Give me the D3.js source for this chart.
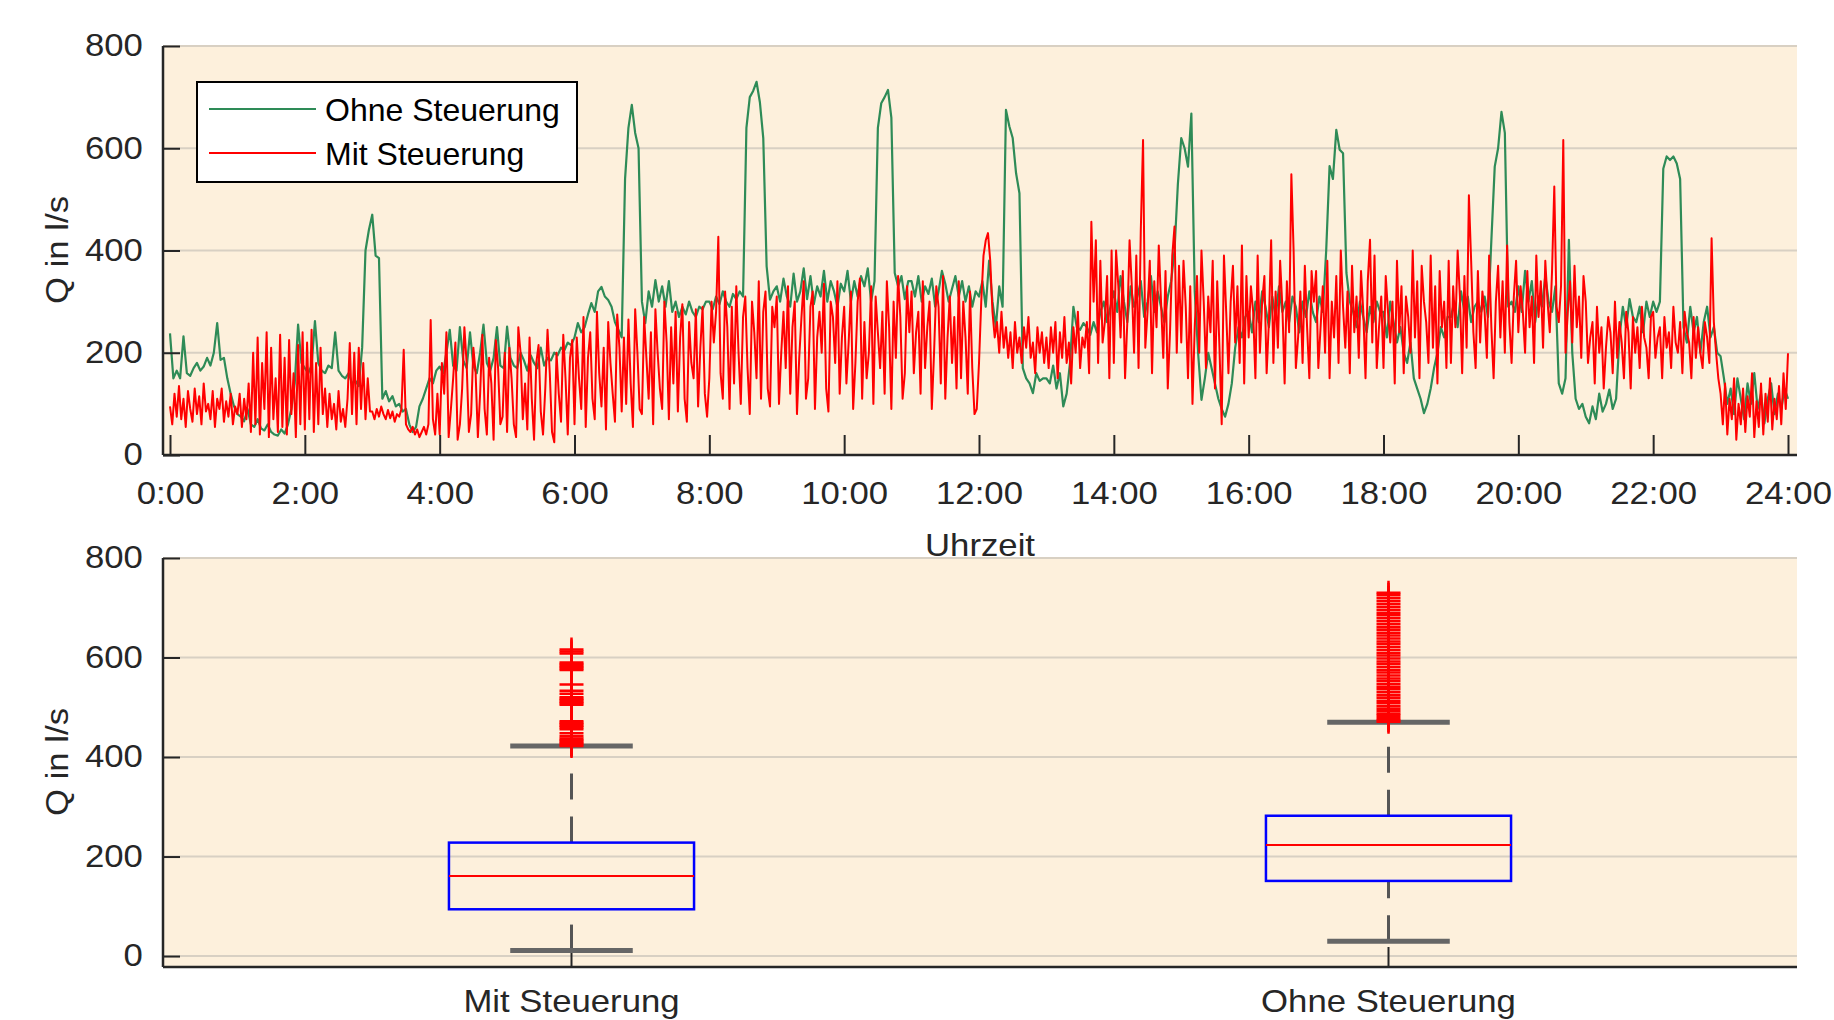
<!DOCTYPE html>
<html>
<head>
<meta charset="utf-8">
<script src="https://cdn.jsdelivr.net/npm/d3@7"></script>
<style>
  body { margin: 0; background: #fff; }
  svg text { font-family: "Liberation Sans", Arial, sans-serif; fill: #262626; }
</style>
</head>
<body>
<svg width="1834" height="1020"></svg>
<script>
// Abfluss in l/s from 0:00 to 24:00
// Ohne Steuerung: one value every 3 minutes (20 per hour)
const ohneStep = 3;
const ohneSteuerung = [
  238, 150, 165, 150, 232, 160, 155, 170, 180, 165, 173, 190, 175, 200, 258, 186, 190, 150, 120, 95,
  80, 75, 66, 90, 60, 55, 70, 52, 48, 60, 45, 40, 38, 50, 42, 60, 90, 140, 255, 180,
  170, 160, 175, 262, 180, 165, 160, 175, 170, 240, 165, 155, 150, 160, 140, 145, 135, 210, 400, 440,
  470, 390, 385, 110, 125, 105, 115, 95, 100, 85, 90, 60, 45, 55, 95, 110, 130, 150, 140, 165,
  173, 160, 200, 245, 175, 165, 250, 185, 170, 240, 175, 160, 200, 255, 180, 165, 190, 250, 175, 170,
  251, 190, 175, 170, 200, 185, 165, 195, 180, 170, 210, 175, 190, 185, 200, 195, 210, 205, 220, 215,
  230, 258, 240, 250, 275, 297, 280, 320, 329, 310, 303, 290, 260, 245, 230, 540, 640, 685, 630, 600,
  300, 258, 320, 290, 342, 300, 330, 290, 340, 280, 300, 270, 290, 275, 300, 280, 270, 290, 285, 300,
  300, 285, 310, 295, 320, 300, 290, 315, 305, 320, 310, 640, 700, 712, 730, 690, 620, 369, 304, 320,
  330, 300, 345, 310, 290, 355, 300, 320, 365, 305, 350, 295, 330, 310, 360, 300, 340, 320, 290, 335,
  320, 360, 300, 340, 310, 350, 330, 365, 300, 340, 640, 688, 700, 714, 660, 356, 330, 350, 305, 340,
  340, 310, 350, 300, 330, 315, 345, 290, 320, 360, 335, 300, 325, 350, 310, 340, 300, 330, 290, 320,
  310, 340, 290, 380, 300, 250, 330, 290, 675, 643, 620, 551, 512, 170, 150, 140, 121, 160, 145, 150,
  150, 140, 175, 130, 160, 95, 120, 180, 290, 250, 245, 258, 250, 235, 260, 240, 280, 300, 260, 290,
  320, 280, 350, 300, 260, 330, 290, 310, 340, 270, 300, 350, 280, 320, 290, 260, 310, 340, 400, 530,
  620, 600, 564, 668, 320, 200, 108, 150, 200, 170, 140, 110, 90, 75, 100, 140, 210, 250, 230, 270,
  280, 240, 300, 260, 320, 290, 250, 310, 270, 330, 280, 300, 260, 310, 290, 240, 300, 270, 320, 280,
  260, 310, 280, 400, 565, 540, 636, 597, 590, 356, 300, 280, 250, 300, 270, 240, 290, 260, 300, 280,
  280, 230, 300, 260, 220, 250, 200, 180, 220, 150, 130, 110, 82, 100, 130, 170, 200, 250, 230, 270,
  270, 300, 250, 320, 280, 310, 260, 290, 300, 280, 310, 270, 420, 564, 600, 671, 630, 290, 300, 280,
  330, 280, 360, 300, 340, 260, 310, 290, 350, 300, 280, 330, 140, 120, 150, 421, 200, 110, 90, 100,
  75, 62, 95, 70, 120, 85, 100, 128, 90, 110, 230, 290, 250, 305, 270, 260, 290, 240, 300, 270,
  300, 280, 300, 560, 584, 577, 584, 570, 540, 250, 220, 290, 240, 270, 200, 260, 290, 230, 250, 200,
  193, 150, 100, 130, 80, 150, 110, 70, 140, 100, 160, 90, 120, 62, 110, 140, 80, 120, 90, 130,
  110
];
// Mit Steuerung: one value every 2 minutes (30 per hour)
const mitStep = 2;
const mitSteuerung = [
  95, 60, 120, 75, 135, 70, 110, 55, 125, 90, 65, 130, 80, 115, 60, 140, 85, 100, 70, 125, 55, 110, 90, 130, 65, 105, 75, 120, 60, 95,
  80, 120, 55, 110, 70, 140, 45, 200, 60, 230, 40, 180, 90, 240, 35, 210, 70, 150, 45, 235, 55, 190, 40, 225, 80, 160, 35, 215, 60, 240,
  50, 220, 70, 245, 45, 180, 60, 210, 80, 130, 55, 120, 70, 100, 50, 125, 65, 90, 55, 110, 219, 80, 200, 60, 210, 90, 180, 70, 150, 85,
  85, 70, 90, 75, 95, 80, 70, 88, 72, 85, 65, 80, 75, 90, 206, 60, 50, 45, 55, 40, 50, 35, 45, 55, 40, 60, 264, 70, 40, 120,
  40, 180, 120, 240, 35, 90, 150, 220, 30, 60, 130, 250, 180, 45, 80, 210, 160, 35, 120, 235, 90, 40, 190, 140, 30, 225, 170, 60, 75, 200,
  45, 210, 150, 60, 35, 250, 200, 70, 140, 50, 230, 110, 30, 180, 215, 85, 40, 130, 245, 160, 45, 25, 200, 120, 65, 235, 150, 40, 190, 225,
  60, 230, 150, 90, 270, 55, 190, 240, 110, 70, 280, 160, 95, 210, 50, 260, 180, 120, 65, 275, 210, 85, 230, 100, 265, 140, 55, 285, 200, 90,
  80, 270, 190, 110, 240, 60, 285, 200, 130, 90, 300, 220, 70, 250, 140, 280, 85, 230, 295, 110, 65, 260, 180, 150, 285, 95, 210, 290, 120, 75,
  150, 300, 220, 280, 427, 160, 110, 320, 250, 90, 290, 140, 330, 200, 100, 270, 310, 170, 80, 300, 240, 150, 340, 110, 280, 320, 130, 95, 290, 250,
  310, 100, 200, 280, 170, 330, 120, 250, 300, 80, 190, 270, 340, 110, 150, 290, 320, 90, 230, 280, 200, 335, 130, 85, 300, 270, 180, 340, 120, 230,
  290, 140, 220, 320, 90, 180, 300, 345, 110, 260, 150, 200, 330, 100, 310, 240, 170, 280, 120, 340, 250, 90, 300, 190, 350, 270, 110, 160, 330, 240,
  320, 160, 240, 280, 120, 340, 170, 250, 300, 90, 200, 330, 290, 140, 350, 110, 230, 310, 180, 270, 130, 340, 150, 300, 230, 120, 320, 170, 80, 90,
  180, 300, 390, 420, 434, 380, 280, 230, 260, 200, 280, 210, 250, 190, 240, 170, 260, 200, 230, 180, 250, 210, 270, 190, 220, 160, 250, 200, 240, 180,
  230, 170, 250, 200, 260, 150, 240, 190, 270, 180, 220, 140, 250, 200, 280, 170, 230, 210, 260, 160, 456, 300, 420, 180, 380, 220, 260, 350, 150, 400,
  180, 400, 330, 230, 360, 150, 260, 420, 330, 200, 390, 170, 440, 616, 210, 280, 380, 160, 340, 250, 410, 300, 190, 360, 130, 240, 390, 447, 200, 370,
  220, 380, 290, 150, 330, 100, 250, 350, 200, 400, 300, 170, 310, 240, 380, 130, 340, 210, 60, 390, 280, 160, 300, 370, 220, 330, 180, 410, 140, 350,
  230, 330, 280, 150, 390, 200, 300, 350, 160, 260, 420, 180, 320, 210, 380, 290, 140, 340, 240, 549, 400, 170, 230, 320, 180, 370, 250, 150, 360, 300,
  360, 170, 250, 330, 200, 380, 150, 300, 230, 350, 180, 400, 290, 210, 320, 160, 370, 240, 310, 190, 360, 280, 150, 340, 421, 220, 390, 170, 250, 310,
  170, 350, 280, 220, 300, 140, 380, 240, 330, 160, 310, 270, 200, 400, 230, 340, 150, 370, 300, 260, 180, 390, 210, 330, 140, 360, 250, 300, 170, 380,
  180, 330, 250, 400, 310, 160, 350, 210, 508, 380, 240, 170, 360, 220, 320, 280, 190, 390, 250, 150, 300, 370, 230, 340, 200, 410, 260, 180, 310, 380,
  240, 330, 280, 200, 360, 250, 310, 180, 390, 270, 340, 210, 380, 300, 240, 360, 525, 290, 260, 330, 616, 200, 280, 340, 220, 370, 250, 310, 190, 350,
  300, 180, 230, 260, 140, 290, 200, 250, 130, 210, 270, 240, 160, 300, 190, 260, 220, 150, 280, 240, 130, 270, 200, 250, 170, 290, 230, 210, 150, 270,
  280, 190, 230, 250, 150, 270, 210, 240, 170, 290, 220, 200, 260, 160, 280, 240, 220, 150, 270, 190, 250, 200, 170, 260, 230, 180, 424, 260, 200, 150,
  120, 60, 140, 40, 110, 70, 150, 30, 100, 60, 130, 45, 115, 75, 160, 35, 105, 55, 140, 40, 120, 65, 150, 50, 110, 70, 135, 60, 160, 90,
  199
];
const timeTicks = [0, 2, 4, 6, 8, 10, 12, 14, 16, 18, 20, 22, 24];
const qTicks = [0, 200, 400, 600, 800];

// boxplot
const boxCategories = ["Mit Steuerung", "Ohne Steuerung"];
const boxQ1 = [94, 151];
const boxMedian = [161, 223];
const boxQ3 = [228, 282];
const whiskerLow = [11, 30];
const whiskerHigh = [422, 470];
const mitOutliers = [422, 425, 428, 431, 434, 437, 442, 448, 456, 460, 463, 466, 469, 472,
  505, 508, 511, 514, 517, 520, 527, 533, 546, 575, 578, 581, 584, 587, 590, 608, 612, 616];
const ohneOutliers = [471, 474, 478, 483, 487, 492, 497, 502, 508, 513, 519, 524, 530, 536,
  541, 547, 553, 558, 564, 570, 575, 581, 587, 592, 598, 604, 609, 615, 621, 627, 632, 638,
  644, 650, 656, 661, 667, 673, 679, 685, 690, 696, 702, 708, 714, 720, 726, 730];
const outliers = [mitOutliers, ohneOutliers];

const svg = d3.select("svg");
const stretch = "scale(1.12,1)";
const left = 163, right = 1797;
const bg = "#fdf0dc", grid = "#d8d0c3", axisColor = "#262626";

// ---------- top: Ganglinie ----------
const x = d3.scaleLinear().domain([0, 24]).range([170, 1788]);
const yTop = d3.scaleLinear().domain([0, 800]).range([455, 46]);

const topPanel = svg.append("g");
topPanel.append("rect")
  .attr("x", left).attr("y", yTop(800))
  .attr("width", right - left).attr("height", yTop(0) - yTop(800))
  .attr("fill", bg);

topPanel.append("g").selectAll("line")
  .data(qTicks.filter(d => d > 0))
  .join("line")
  .attr("x1", left).attr("x2", right)
  .attr("y1", d => yTop(d)).attr("y2", d => yTop(d))
  .attr("stroke", grid).attr("stroke-width", 2);

svg.append("clipPath").attr("id", "clipTop")
  .append("rect")
  .attr("x", left).attr("y", yTop(800))
  .attr("width", right - left).attr("height", yTop(0) - yTop(800));

const lineFor = step => d3.line()
  .x((d, i) => x(i * step / 60))
  .y(d => yTop(d));

topPanel.append("path")
  .datum(ohneSteuerung)
  .attr("clip-path", "url(#clipTop)")
  .attr("fill", "none")
  .attr("stroke", "#2e8b57")
  .attr("stroke-width", 2.2)
  .attr("stroke-linejoin", "round")
  .attr("d", lineFor(ohneStep));

topPanel.append("path")
  .datum(mitSteuerung)
  .attr("clip-path", "url(#clipTop)")
  .attr("fill", "none")
  .attr("stroke", "#ff0000")
  .attr("stroke-width", 2)
  .attr("stroke-linejoin", "round")
  .attr("d", lineFor(mitStep));

const xAxisTop = topPanel.append("g")
  .attr("transform", `translate(0,${yTop(0)})`)
  .call(d3.axisBottom(x).tickValues(timeTicks).tickFormat(d => d + ":00")
    .tickSize(-20).tickSizeOuter(0).tickPadding(27));
const yAxisTop = topPanel.append("g")
  .attr("transform", `translate(${left},0)`)
  .call(d3.axisLeft(yTop).tickValues(qTicks)
    .tickSize(-17).tickSizeOuter(0).tickPadding(18));

// axis lines
topPanel.append("line").attr("x1", left).attr("x2", right)
  .attr("y1", yTop(0)).attr("y2", yTop(0))
  .attr("stroke", axisColor).attr("stroke-width", 2.5);
topPanel.append("line").attr("x1", left).attr("x2", left)
  .attr("y1", yTop(800)).attr("y2", yTop(0))
  .attr("stroke", axisColor).attr("stroke-width", 2.5);

topPanel.append("text")
  .attr("transform", `translate(980,556) ${stretch}`)
  .attr("text-anchor", "middle")
  .attr("font-size", 31)
  .text("Uhrzeit");
topPanel.append("text")
  .attr("transform", `translate(68,250) rotate(-90) ${stretch}`)
  .attr("text-anchor", "middle")
  .attr("font-size", 31)
  .text("Q in l/s");

// legend
const legend = topPanel.append("g");
legend.append("rect")
  .attr("x", 197).attr("y", 82).attr("width", 380).attr("height", 100)
  .attr("fill", "#fff").attr("stroke", "#000").attr("stroke-width", 2);
const legendItems = [
  { label: "Ohne Steuerung", color: "#2e8b57" },
  { label: "Mit Steuerung", color: "#ff0000" }
];
legend.selectAll("line.item")
  .data(legendItems)
  .join("line")
  .attr("class", "item")
  .attr("x1", 209).attr("x2", 316)
  .attr("y1", (d, i) => 109 + i * 44).attr("y2", (d, i) => 109 + i * 44)
  .attr("stroke", d => d.color).attr("stroke-width", 2);
legend.selectAll("text")
  .data(legendItems)
  .join("text")
  .attr("x", 325)
  .attr("y", (d, i) => 121 + i * 44)
  .attr("font-size", 32)
  .style("fill", "#000")
  .text(d => d.label);

// ---------- bottom: Boxplot ----------
const xb = d3.scaleBand().domain(boxCategories).range([left, right]);
const yBot = d3.scaleLinear().domain([-22, 800]).range([967, 558]);
const bw = xb.bandwidth();
const cx = c => xb(c) + bw / 2;

const botPanel = svg.append("g");
botPanel.append("rect")
  .attr("x", left).attr("y", yBot(800))
  .attr("width", right - left).attr("height", yBot(-22) - yBot(800))
  .attr("fill", bg);

botPanel.append("g").selectAll("line")
  .data(qTicks)
  .join("line")
  .attr("x1", left).attr("x2", right)
  .attr("y1", d => yBot(d)).attr("y2", d => yBot(d))
  .attr("stroke", grid).attr("stroke-width", 2);

const xAxisBot = botPanel.append("g")
  .attr("transform", `translate(0,${yBot(-22)})`)
  .call(d3.axisBottom(xb).tickSize(-20).tickSizeOuter(0).tickPadding(23));
const yAxisBot = botPanel.append("g")
  .attr("transform", `translate(${left},0)`)
  .call(d3.axisLeft(yBot).tickValues(qTicks)
    .tickSize(-17).tickSizeOuter(0).tickPadding(18));

const boxes = botPanel.append("g").selectAll("g")
  .data(boxCategories.map((c, i) => ({ c, i })))
  .join("g");

// whiskers
boxes.append("line")
  .attr("x1", d => cx(d.c)).attr("x2", d => cx(d.c))
  .attr("y1", d => yBot(boxQ3[d.i])).attr("y2", d => yBot(whiskerHigh[d.i]))
  .attr("stroke", "#555").attr("stroke-width", 3).attr("stroke-dasharray", "26 17");
boxes.append("line")
  .attr("x1", d => cx(d.c)).attr("x2", d => cx(d.c))
  .attr("y1", d => yBot(whiskerLow[d.i])).attr("y2", d => yBot(boxQ1[d.i]))
  .attr("stroke", "#555").attr("stroke-width", 3).attr("stroke-dasharray", "26 17");
[whiskerHigh, whiskerLow].forEach(w => {
  boxes.append("line")
    .attr("x1", d => cx(d.c) - bw * 0.075).attr("x2", d => cx(d.c) + bw * 0.075)
    .attr("y1", d => yBot(w[d.i])).attr("y2", d => yBot(w[d.i]))
    .attr("stroke", "#666").attr("stroke-width", 5);
});

boxes.append("rect")
  .attr("x", d => cx(d.c) - bw * 0.15)
  .attr("width", bw * 0.3)
  .attr("y", d => yBot(boxQ3[d.i]))
  .attr("height", d => yBot(boxQ1[d.i]) - yBot(boxQ3[d.i]))
  .attr("fill", "none").attr("stroke", "#0000ff").attr("stroke-width", 2.5);
boxes.append("line")
  .attr("x1", d => cx(d.c) - bw * 0.15).attr("x2", d => cx(d.c) + bw * 0.15)
  .attr("y1", d => yBot(boxMedian[d.i])).attr("y2", d => yBot(boxMedian[d.i]))
  .attr("stroke", "#ff0000").attr("stroke-width", 2);

boxes.each(function(d) {
  d3.select(this).selectAll("path.out")
    .data(outliers[d.i])
    .join("path")
    .attr("class", "out")
    .attr("transform", v => `translate(${cx(d.c)},${yBot(v)})`)
    .attr("d", "M-12,0H12M0,-12V12")
    .attr("fill", "none").attr("stroke", "#ff0000").attr("stroke-width", 2.5);
});

botPanel.append("line").attr("x1", left).attr("x2", right)
  .attr("y1", yBot(-22)).attr("y2", yBot(-22))
  .attr("stroke", axisColor).attr("stroke-width", 2.5);
botPanel.append("line").attr("x1", left).attr("x2", left)
  .attr("y1", yBot(800)).attr("y2", yBot(-22))
  .attr("stroke", axisColor).attr("stroke-width", 2.5);

botPanel.append("text")
  .attr("transform", `translate(68,762) rotate(-90) ${stretch}`)
  .attr("text-anchor", "middle")
  .attr("font-size", 31)
  .text("Q in l/s");

// axis styling
[xAxisTop, yAxisTop, xAxisBot, yAxisBot].forEach(a => {
  a.select(".domain").remove();
  a.selectAll(".tick line").attr("stroke", axisColor).attr("stroke-width", 2);
  a.selectAll(".tick text")
    .attr("font-size", 31)
    .attr("font-family", null)
    .attr("fill", null)
    .attr("transform", stretch);
});
</script>
</body>
</html>
